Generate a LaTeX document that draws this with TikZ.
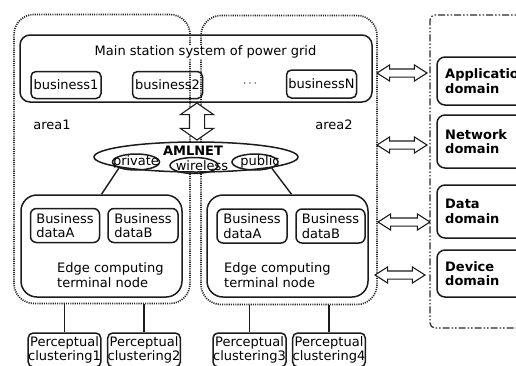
\documentclass[tikz,border=0pt]{standalone}
\usepackage{fontspec}
\setmainfont{DejaVu Sans}
\usepackage{xcolor}
\usetikzlibrary{arrows.meta, positioning, shapes.geometric, shapes.arrows, calc}
\definecolor{lineDark}{RGB}{28,28,28}
\definecolor{dotGray}{RGB}{40,40,40}
\newcommand{\gridfont}{\fontsize{13}{14.5}\selectfont}
\tikzset{
    areabox/.style={
        rectangle,
        draw=dotGray,
        line width=1.7pt,
        dash pattern=on 1.1pt off 1.1pt,
        rounded corners=20pt,
        minimum width=176pt,
        minimum height=289pt
    },
    stationbox/.style={
        rectangle,
        draw=lineDark,
        line width=1.5pt,
        rounded corners=10pt,
        minimum width=352pt,
        minimum height=67pt
    },
    bizbox/.style={
        rectangle,
        draw=lineDark,
        line width=1.5pt,
        rounded corners=5pt,
        inner sep=0pt,
        minimum width=70pt,
        minimum height=27pt,
        font=\gridfont
    },
    databox/.style={
        rectangle,
        draw=lineDark,
        line width=1.5pt,
        rounded corners=6pt,
        align=left,
        inner sep=0pt,
        minimum width=69pt,
        minimum height=34pt,
        font=\gridfont
    },
    edgebox/.style={
        rectangle,
        draw=lineDark,
        line width=1.5pt,
        rounded corners=16pt,
        minimum width=161pt,
        minimum height=102pt
    },
    percbox/.style={
        rectangle,
        draw=lineDark,
        line width=1.5pt,
        rounded corners=5pt,
        align=center,
        inner sep=0pt,
        minimum width=72pt,
        minimum height=34pt,
        font=\gridfont
    },
    domainbox/.style={
        rectangle,
        draw=lineDark,
        line width=1.5pt,
        rounded corners=8pt,
        minimum width=90pt
    },
    domaintext/.style={align=left, anchor=west, inner sep=0pt, font=\gridfont\bfseries},
    netring/.style={ellipse, draw=lineDark, line width=1.5pt, inner sep=0pt},
    plaintext/.style={inner sep=1pt, font=\gridfont},
    linkline/.style={draw=lineDark, line width=1.4pt},
    hollowarrow/.style={
        double arrow,
        draw=lineDark,
        line width=1.1pt,
        fill=white,
        inner sep=3.5pt,
        minimum height=50pt,
        minimum width=15pt,
        double arrow head extend=4pt,
        double arrow tip angle=65
    },
    domainframe/.style={
        rectangle,
        draw=dotGray,
        line width=1.2pt,
        dash pattern=on 7pt off 2pt on 1.5pt off 2pt on 1.5pt off 2pt,
        rounded corners=5pt,
        minimum width=100pt,
        minimum height=313pt
    }
}

\begin{document}
\begin{tikzpicture}[x=1pt, y=-1pt]
    \useasboundingbox (0,0) rectangle (516,365);
    \clip (0,0) rectangle (516,365);
    % the two areas
    \node[areabox] (area1) at (102,159) {};
    \node[areabox] (area2) at (289,160) {};
    \node[plaintext] (area1lbl) at (52,125) {area1};
    \node[plaintext] (area2lbl) at (334,125) {area2};

    % main station
    \node[stationbox] (station) at (196,68.5) {};
    \node[plaintext, fill=white] (stationlbl) at (205.5,52) {Main station system of power grid};
    \node[bizbox] (biz1) at (66,85) {business1};
    \node[bizbox] (biz2) at (167.5,85) {business2};
    \node[plaintext] (bizdots) at (250,84) {$\cdots$};
    \node[bizbox, minimum height=28pt] (bizN) at (321.5,84) {businessN};

    % network
    \node[hollowarrow, shape border rotate=90, inner sep=7pt, minimum height=37pt, minimum width=32pt,
          double arrow head extend=9pt, double arrow tip angle=110] (uplink) at (197,121.5) {};
    \node[netring, fill=white, minimum width=204pt, minimum height=30pt] (amlnet) at (196,157) {};
    \node[plaintext, font=\gridfont\bfseries] (amllbl) at (193,151) {AMLNET};
    \node[netring, minimum width=47pt, minimum height=16pt, label={[plaintext]center:private}] (private) at (136,162) {};
    \node[netring, minimum width=48pt, minimum height=16pt] (wireless) at (194,165.5) {};
    \node[plaintext] (wirelesslbl) at (202,165.5) {wireless};
    \node[netring, minimum width=46pt, minimum height=16pt] (public) at (255,162) {};
    \node[plaintext] (publiclbl) at (260,162) {public};

    % edge computing nodes
    \node[edgebox] (edge1) at (101.5,246) {};
    \node[databox] (dataA1) at (65,225.5) {Business\\dataA};
    \node[databox, minimum width=70pt] (dataB1) at (143,225.5) {Business\\dataB};
    \node[plaintext, align=left, anchor=west] (edge1lbl) at (56,275) {Edge computing\\terminal node};
    \node[edgebox] (edge2) at (287.5,246) {};
    \node[databox, minimum width=70pt] (dataA2) at (252,226) {Business\\dataA};
    \node[databox] (dataB2) at (330.5,226) {Business\\dataB};
    \node[plaintext, align=left, anchor=west] (edge2lbl) at (223,275) {Edge computing\\terminal node};
    \draw[linkline] (private.south west) -- (edge1.north);
    \draw[linkline] (public.south east) -- ($(edge2.north)+(4,0)$);

    % perceptual clusters
    \node[percbox] (perc1) at (64.5,350) {Perceptual\\clustering1};
    \node[percbox] (perc2) at (144,350) {Perceptual\\clustering2};
    \node[percbox, minimum width=73pt] (perc3) at (249.5,350) {Perceptual\\clustering3};
    \node[percbox] (perc4) at (329,350) {Perceptual\\clustering4};
    \draw[linkline] (perc1.north |- area1.south) -- (perc1.north);
    \draw[linkline] (perc2.north |- area1.south) -- (perc2.north);
    \draw[linkline] (perc3.north |- area2.south) -- (perc3.north);
    \draw[linkline] (perc4.north |- area2.south) -- (perc4.north);

    % domains
    \node[domainframe] (domains) at (480,171.5) {};
    \node[domainbox, minimum height=48pt] (appdom) at (482,81) {};
    \node[domaintext] (applbl) at (445,81) {Application\\domain};
    \node[domainbox, minimum height=53pt] (netdom) at (482,141.5) {};
    \node[domaintext] (netlbl) at (445,141.5) {Network\\domain};
    \node[domainbox, minimum height=53pt] (datadom) at (482,211.5) {};
    \node[domaintext] (datalbl) at (445,211.5) {Data\\domain};
    \node[domainbox, minimum height=47pt] (devdom) at (482,273.5) {};
    \node[domaintext] (devlbl) at (445,273.5) {Device\\domain};
    \node[hollowarrow] (apparrow) at (402,73) {};
    \node[hollowarrow] (netarrow) at (402,145) {};
    \node[hollowarrow, minimum height=52pt] (dataarrow) at (404,222) {};
    \node[hollowarrow] (devarrow) at (400,275) {};
\end{tikzpicture}
\end{document}
